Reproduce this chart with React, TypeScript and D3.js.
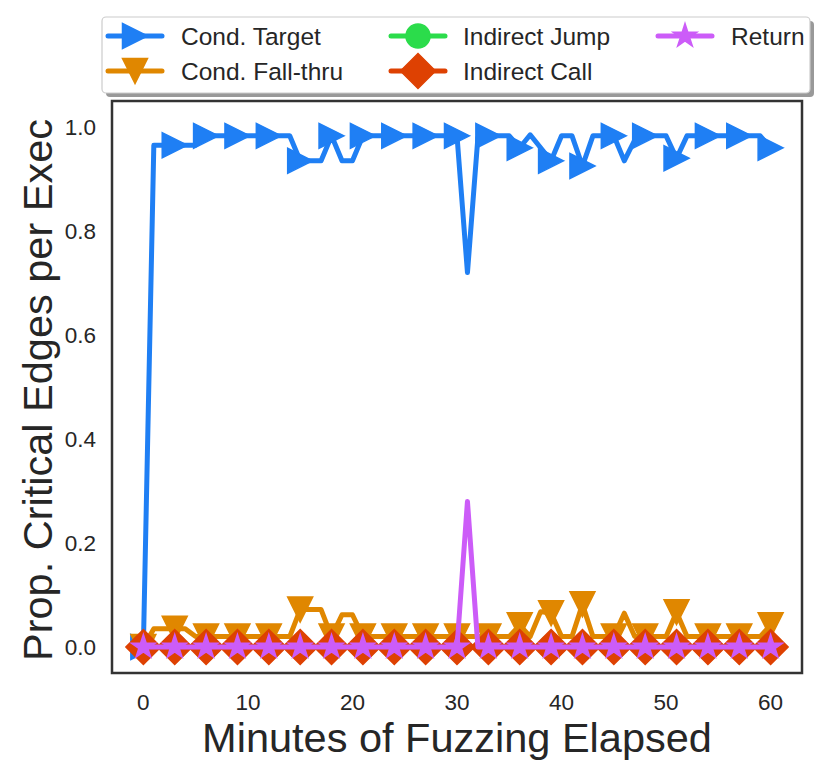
import React from 'react';
import * as d3 from 'd3';

// minutes of fuzzing (one sample per minute)
const minutes = [
  0, 1, 2, 3, 4, 5, 6, 7, 8, 9, 10, 11, 12, 13, 14, 15, 16, 17, 18, 19, 20,
  21, 22, 23, 24, 25, 26, 27, 28, 29, 30, 31, 32, 33, 34, 35, 36, 37, 38, 39, 40,
  41, 42, 43, 44, 45, 46, 47, 48, 49, 50, 51, 52, 53, 54, 55, 56, 57, 58, 59, 60,
];

const condTarget = [
  0, 0.965, 0.965, 0.965, 0.965, 0.965, 0.983, 0.983, 0.983, 0.983, 0.983,
  0.983, 0.983, 0.983, 0.983, 0.935, 0.935, 0.935, 0.983, 0.935, 0.935,
  0.983, 0.983, 0.983, 0.983, 0.983, 0.983, 0.983, 0.983, 0.983, 0.983,
  0.72, 0.98, 0.983, 0.983, 0.983, 0.96, 0.985, 0.96, 0.935, 0.983,
  0.983, 0.925, 0.983, 0.983, 0.983, 0.935, 0.975, 0.983, 0.983, 0.983,
  0.94, 0.983, 0.983, 0.983, 0.983, 0.983, 0.983, 0.983, 0.983, 0.96,
];

const condFallThru = [
  0, 0.035, 0.035, 0.035, 0.035, 0.02, 0.02, 0.02, 0.02, 0.02, 0.02,
  0.02, 0.02, 0.02, 0.02, 0.072, 0.072, 0.072, 0.02, 0.062, 0.062,
  0.02, 0.02, 0.02, 0.02, 0.02, 0.02, 0.02, 0.02, 0.02, 0.02,
  0.02, 0.02, 0.02, 0.02, 0.02, 0.042, 0.02, 0.068, 0.065, 0.02,
  0.02, 0.082, 0.02, 0.02, 0.02, 0.065, 0.02, 0.02, 0.02, 0.02,
  0.067, 0.02, 0.02, 0.02, 0.02, 0.02, 0.02, 0.02, 0.02, 0.042,
];

const indirectJump = [
  0, 0, 0, 0, 0, 0, 0, 0, 0, 0, 0, 0, 0, 0, 0, 0, 0, 0, 0, 0, 0,
  0, 0, 0, 0, 0, 0, 0, 0, 0, 0, 0, 0, 0, 0, 0, 0, 0, 0, 0, 0,
  0, 0, 0, 0, 0, 0, 0, 0, 0, 0, 0, 0, 0, 0, 0, 0, 0, 0, 0, 0,
];

const indirectCall = [
  0, 0, 0, 0, 0, 0, 0, 0, 0, 0, 0, 0, 0, 0, 0, 0, 0, 0, 0, 0, 0,
  0, 0, 0, 0, 0, 0, 0, 0, 0, 0, 0, 0, 0, 0, 0, 0, 0, 0, 0, 0,
  0, 0, 0, 0, 0, 0, 0, 0, 0, 0, 0, 0, 0, 0, 0, 0, 0, 0, 0, 0,
];

const returnEdges = [
  0, 0, 0, 0, 0, 0, 0, 0, 0, 0, 0, 0, 0, 0, 0, 0, 0, 0, 0, 0, 0,
  0, 0, 0, 0, 0, 0, 0, 0, 0, 0, 0.28, 0, 0, 0, 0, 0, 0, 0, 0, 0,
  0, 0, 0, 0, 0, 0, 0, 0, 0, 0, 0, 0, 0, 0, 0, 0, 0, 0, 0, 0,
];

const seriesNames = ['Cond. Target', 'Cond. Fall-thru', 'Indirect Jump', 'Indirect Call', 'Return'];
const xTicks = [0, 10, 20, 30, 40, 50, 60];
const yTicks = [0, 0.2, 0.4, 0.6, 0.8, 1.0];

type Marker = 'triRight' | 'triDown' | 'circle' | 'diamond' | 'star';

const starPath = (r: number) => {
  const ri = r * 0.381966;
  const pts: string[] = [];
  for (let k = 0; k < 10; k++) {
    const a = -Math.PI / 2 + (k * Math.PI) / 5;
    const rr = k % 2 === 0 ? r : ri;
    pts.push(`${(rr * Math.cos(a)).toFixed(2)},${(rr * Math.sin(a)).toFixed(2)}`);
  }
  return `M${pts.join('L')}Z`;
};

const markerPath = (m: Marker) => {
  switch (m) {
    case 'triRight':
      return 'M12.5,0L-12.5,-12.5L-12.5,12.5Z';
    case 'triDown':
      return 'M0,12.5L-12.5,-12.5L12.5,-12.5Z';
    case 'diamond':
      return 'M0,-17.5L17.5,0L0,17.5L-17.5,0Z';
    case 'star':
      return starPath(12.5);
    default:
      return d3.arc()({ innerRadius: 0, outerRadius: 12, startAngle: 0, endAngle: 2 * Math.PI }) || '';
  }
};

const series: { name: string; values: number[]; color: string; marker: Marker }[] = [
  { name: seriesNames[0], values: condTarget, color: '#1f7ff4', marker: 'triRight' },
  { name: seriesNames[1], values: condFallThru, color: '#e08700', marker: 'triDown' },
  { name: seriesNames[2], values: indirectJump, color: '#2bdc4b', marker: 'circle' },
  { name: seriesNames[3], values: indirectCall, color: '#de4102', marker: 'diamond' },
  { name: seriesNames[4], values: returnEdges, color: '#cc5cf8', marker: 'star' },
];

const W = 830;
const H = 775;
const box = { left: 112, top: 101, right: 802, bottom: 673 };
const textColor = '#262626';
const font = '"Liberation Sans", Arial, sans-serif';

export default function App() {
  const x = d3.scaleLinear().domain([-3, 63]).range([box.left, box.right]);
  const y = d3.scaleLinear().domain([-0.05, 1.05]).range([box.bottom, box.top]);

  const line = d3
    .line<number>()
    .x((_, i) => x(minutes[i]))
    .y(d => y(d));

  // legend layout: column-major, 2 rows
  const legendCols = [
    { handle: 135, text: 181 },
    { handle: 418, text: 463 },
    { handle: 685, text: 731 },
  ];
  const legendRows = [36, 71];

  return (
    <svg
      width={W}
      height={H}
      style={{ position: 'absolute', left: 0, top: 0, background: '#fff', fontFamily: font }}
    >
      <defs>
        <clipPath id="plot-area">
          <rect x={box.left} y={box.top} width={box.right - box.left} height={box.bottom - box.top} />
        </clipPath>
      </defs>

      <g clipPath="url(#plot-area)">
        {series.map(s => (
          <g key={s.name}>
            <path
              d={line(s.values) || ''}
              fill="none"
              stroke={s.color}
              strokeWidth={5}
              strokeLinejoin="round"
              strokeLinecap="round"
            />
            {s.values.map((v, i) =>
              i % 3 === 0 ? (
                <path
                  key={i}
                  d={markerPath(s.marker)}
                  transform={`translate(${x(minutes[i])},${y(v)})`}
                  fill={s.color}
                  stroke={s.color}
                  strokeWidth={1.5}
                  strokeLinejoin="miter"
                />
              ) : null
            )}
          </g>
        ))}
      </g>

      {/* frame */}
      <rect
        x={box.left}
        y={box.top}
        width={box.right - box.left}
        height={box.bottom - box.top}
        fill="none"
        stroke="#333"
        strokeWidth={2.5}
      />

      {/* y ticks */}
      {yTicks.map(t => (
        <text
          key={t}
          x={96}
          y={y(t)}
          dy="0.36em"
          textAnchor="end"
          fontSize={22.5}
          fill={textColor}
        >
          {d3.format('.1f')(t)}
        </text>
      ))}

      {/* x ticks */}
      {xTicks.map(t => (
        <text key={t} x={x(t)} y={710} textAnchor="middle" fontSize={22.5} fill={textColor}>
          {t}
        </text>
      ))}

      <text x={(box.left + box.right) / 2} y={752} textAnchor="middle" fontSize={41.5} fill={textColor}>
        Minutes of Fuzzing Elapsed
      </text>
      <text
        transform={`translate(52,${(box.top + box.bottom) / 2 + 3}) rotate(-90)`}
        textAnchor="middle"
        fontSize={41.5}
        fill={textColor}
      >
        Prop. Critical Edges per Exec
      </text>

      {/* legend */}
      <g>
        <rect x={106} y={21} width={708} height={76} rx={4} fill="#999" />
        <rect x={102} y={17} width={708} height={76} rx={4} fill="#fff" stroke="#ccc" strokeWidth={1.2} />
        {series.map((s, i) => {
          const col = legendCols[Math.floor(i / 2)];
          const cy = legendRows[i % 2];
          return (
            <g key={s.name}>
              <line
                x1={col.handle - 27}
                x2={col.handle + 27}
                y1={cy}
                y2={cy}
                stroke={s.color}
                strokeWidth={5}
                strokeLinecap="round"
              />
              <path
                d={markerPath(s.marker)}
                transform={`translate(${col.handle},${cy})`}
                fill={s.color}
                stroke={s.color}
                strokeWidth={1.5}
              />
              <text x={col.text} y={cy} dy="0.36em" fontSize={24.5} fill={textColor}>
                {s.name}
              </text>
            </g>
          );
        })}
      </g>
    </svg>
  );
}
